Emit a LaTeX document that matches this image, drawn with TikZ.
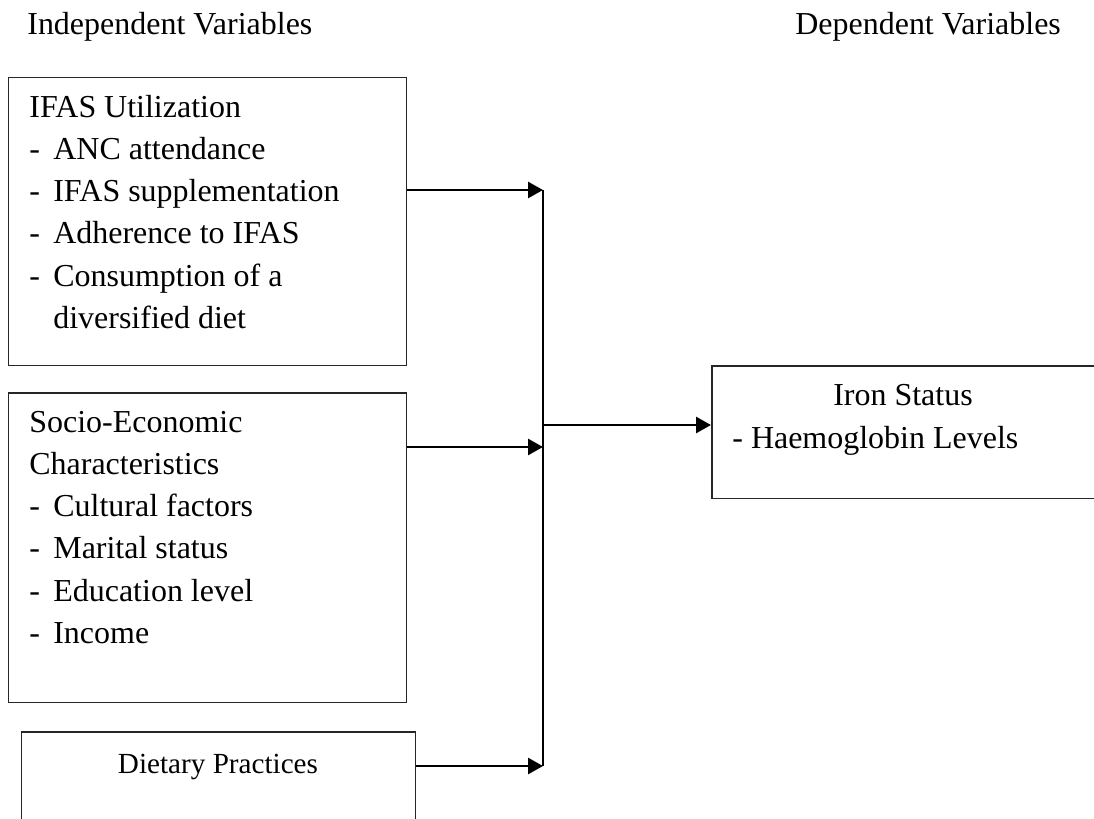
\documentclass[tikz,border=0pt]{standalone}
\usepackage{fontspec}
\setmainfont{Liberation Serif}
\usetikzlibrary{arrows.meta,positioning}
\newcommand{\dsh}{\makebox[0.48cm][l]{-}}
\newcommand{\ind}{\hspace*{0.48cm}}
\tikzset{
  varbox/.style={draw=black!85, line width=0.85pt, inner sep=0pt, anchor=north west},
  ln/.style={anchor=base west, inner sep=0pt, font=\fontsize{18.2}{24}\selectfont},
  hd/.style={anchor=base west, inner sep=0pt, font=\fontsize{18.2}{24}\selectfont},
  arr/.style={-{Triangle[length=0.3cm, width=0.32cm]}, line width=1.6pt},
  bus/.style={line width=1.1pt},
}

\begin{document}
\begin{tikzpicture}[x=0.02cm, y=-0.02cm]
  \useasboundingbox (0,0) rectangle (1094,818);
  \clip (0,0) rectangle (1094,818);

  % headings
  \node[hd] (indep) at (27,34) {Independent Variables};
  \node[hd] (dep) at (795,34) {Dependent Variables};

  % --- independent variable boxes ---
  \node[varbox, minimum width=7.96cm, minimum height=5.76cm] (ifas) at (8,77) {};
  \foreach \t [count=\i from 0] in {IFAS Utilization, \dsh ANC attendance,
      \dsh IFAS supplementation, \dsh Adherence to IFAS,
      \dsh Consumption of a, \ind diversified diet}
    \node[ln] (ifas-l\i) at (29,{117+42.3*\i}) {\t};

  \node[varbox, minimum width=7.96cm, minimum height=6.2cm] (socio) at (8,392) {};
  \foreach \t [count=\i from 0] in {Socio-Economic, Characteristics,
      \dsh Cultural factors, \dsh Marital status,
      \dsh Education level, \dsh Income}
    \node[ln] (socio-l\i) at (29,{432+42.3*\i}) {\t};

  \node[varbox, minimum width=7.88cm, minimum height=3cm] (diet) at (21,731) {};
  \node[anchor=base, inner sep=0pt, font=\fontsize{16.6}{20}\selectfont]
    (diet-l0) at (218,773) {Dietary Practices};

  % --- dependent variable box ---
  \node[varbox, minimum width=8.4cm, minimum height=2.66cm] (iron) at (711,365) {};
  \node[anchor=base, inner sep=0pt, font=\fontsize{18.2}{24}\selectfont]
    (iron-l0) at (903,405) {Iron Status};
  \node[ln] (iron-l1) at (732,448) {- Haemoglobin Levels};

  % junctions on the collecting line
  \coordinate (j1) at (543,190);
  \coordinate (j2) at (543,447);
  \coordinate (j3) at (543,766);
  \coordinate (jo) at (543,425);

  % connectors
  \draw[bus] (j1) -- (j3);
  \draw[arr] (ifas.east |- j1) -- (j1);
  \draw[arr] (socio.east |- j2) -- (j2);
  \draw[arr] (diet.east |- j3) -- (j3);
  \draw[arr] (jo) -- (iron.west |- jo);
\end{tikzpicture}
\end{document}
